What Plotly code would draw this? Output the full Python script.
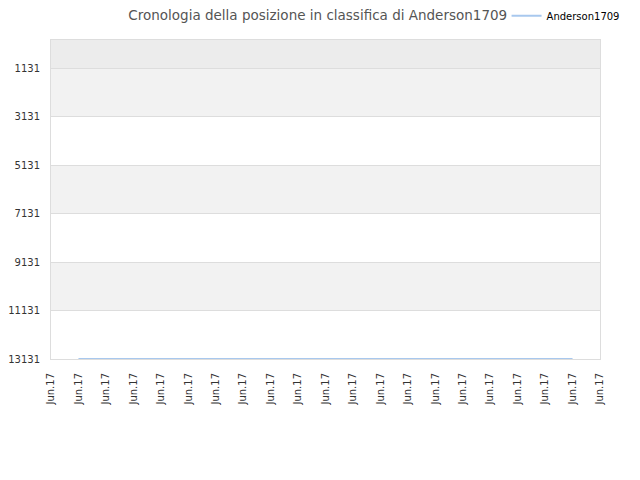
import plotly.graph_objects as go

# dati
player = "Anderson1709"
x_index = list(range(21))
tick_labels = ["Jun.17"] * 21
ranks = [None] + [13131] * 19 + [None]
y_ticks = [1131, 3131, 5131, 7131, 9131, 11131, 13131]
y_labels = [str(v) for v in y_ticks]

fig = go.Figure()

fig.add_trace(
    go.Scatter(
        x=x_index,
        y=ranks,
        mode="lines",
        name=player,
        line=dict(color="#a8c8ee", width=2),
    )
)

# bande alternate di sfondo
edges = [-24] + y_ticks
band_colors = ["#ececec", "#f2f2f2", "#ffffff", "#f2f2f2", "#ffffff", "#f2f2f2", "#ffffff"]
for i in range(len(edges) - 1):
    fig.add_shape(
        type="rect", xref="paper", yref="y",
        x0=0, x1=1, y0=edges[i], y1=edges[i + 1],
        fillcolor=band_colors[i], line_width=0, layer="below",
    )

# la pagina html ha un margine di 8px sul body: margini compensati
fig.update_layout(
    width=640,
    height=480,
    paper_bgcolor="#ffffff",
    plot_bgcolor="#ffffff",
    font=dict(family="DejaVu Sans", size=10, color="#333333"),
    title=dict(
        text="Cronologia della posizione in classifica di Anderson1709",
        x=0.484, xanchor="center", y=0.984, yanchor="middle",
        font=dict(size=13.5, color="#555555"),
        automargin=False,
    ),
    showlegend=True,
    legend=dict(
        orientation="h",
        xref="container", x=0.779, xanchor="left",
        yref="container", y=0.984, yanchor="middle",
        itemwidth=30,
        font=dict(family="DejaVu Sans", size=10, color="#000000"),
        bgcolor="rgba(0,0,0,0)",
    ),
    margin=dict(l=43, r=48, t=32, b=129, autoexpand=False),
)

fig.update_xaxes(
    tickvals=x_index,
    ticktext=tick_labels,
    tickangle=-90,
    range=[0, 20],
    showgrid=False,
    zeroline=False,
    showline=True,
    linecolor="#dddddd",
    mirror=True,
    ticks="",
    ticklabelstandoff=9,
    automargin=False,
    tickfont=dict(family="DejaVu Sans", size=10, color="#333333"),
)

fig.update_yaxes(
    tickvals=y_ticks,
    ticktext=y_labels,
    range=[13131, -24],
    showgrid=True,
    gridcolor="#dddddd",
    zeroline=False,
    showline=True,
    linecolor="#dddddd",
    mirror=True,
    ticks="",
    ticklabelstandoff=8,
    automargin=False,
    tickfont=dict(family="DejaVu Sans", size=10, color="#333333"),
)

fig.write_html("out.html")
